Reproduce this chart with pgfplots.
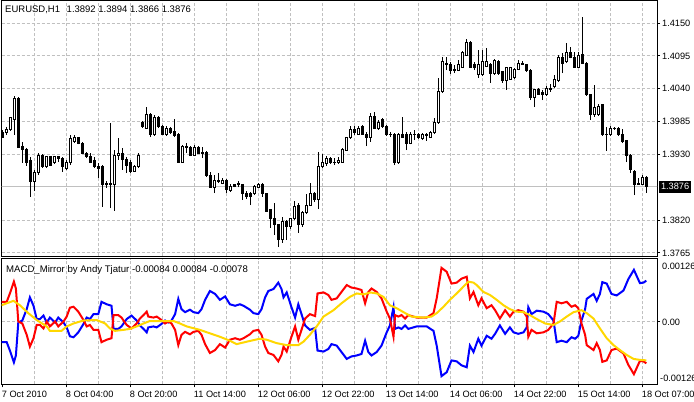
\documentclass[border=0pt]{standalone}
\usepackage{fontspec}
\setmainfont{Liberation Sans}
\usepackage{pgfplots}
\usepackage{pgfplotstable}
\pgfplotsset{compat=1.18}
\definecolor{gridgray}{RGB}{192,192,192}
\definecolor{mtred}{RGB}{255,0,0}
\definecolor{mtblue}{RGB}{0,0,255}
\definecolor{mtgold}{RGB}{255,215,0}

\pgfplotstableread{
k O H L C
0 1.3966 1.3971 1.3958 1.3959
1 1.3966 1.3976 1.3963 1.3971
2 1.3971 1.3993 1.3969 1.3991
3 1.3988 1.4028 1.3963 1.4023
4 1.4023 1.4026 1.3941 1.3942
5 1.3944 1.3951 1.3916 1.3939
6 1.3939 1.3941 1.3911 1.3917
7 1.3919 1.3926 1.3859 1.3884
8 1.3884 1.3904 1.3869 1.3899
9 1.3899 1.3932 1.3896 1.3929
10 1.3929 1.3931 1.3907 1.3909
11 1.3909 1.3927 1.3907 1.3926
12 1.3926 1.3927 1.3911 1.3912
13 1.3916 1.3927 1.3914 1.3926
14 1.3926 1.3927 1.3917 1.3924
15 1.3924 1.3926 1.3901 1.3909
16 1.3907 1.3921 1.3904 1.3916
17 1.3916 1.3963 1.3912 1.3956
18 1.3952 1.3963 1.3949 1.3958
19 1.3958 1.3959 1.3947 1.3949
20 1.3949 1.3951 1.3931 1.3932
21 1.3932 1.3934 1.3924 1.3926
22 1.3926 1.3932 1.3916 1.3917
23 1.3919 1.3926 1.3907 1.3909
24 1.3909 1.3916 1.3891 1.3907
25 1.3909 1.3912 1.3842 1.3880
26 1.3879 1.3886 1.3874 1.3882
27 1.3882 1.3983 1.3840 1.3879
28 1.3879 1.3937 1.3836 1.3929
29 1.3929 1.3958 1.3921 1.3932
30 1.3932 1.3941 1.3904 1.3922
31 1.3922 1.3926 1.3899 1.3911
32 1.3916 1.3921 1.3899 1.3901
33 1.3902 1.3912 1.3901 1.3909
34 1.3909 1.3932 1.3907 1.3929
35 1.3983 1.3986 1.3974 1.3976
36 1.3974 1.4009 1.3973 1.3996
37 1.3996 1.3999 1.3959 1.3963
38 1.3964 1.3996 1.3961 1.3991
39 1.3991 1.3994 1.3974 1.3976
40 1.3976 1.3979 1.3963 1.3964
41 1.3964 1.3978 1.3961 1.3974
42 1.3973 1.3976 1.3964 1.3966
43 1.3968 1.3989 1.3959 1.3961
44 1.3963 1.3966 1.3916 1.3917
45 1.3917 1.3946 1.3916 1.3944
46 1.3944 1.3949 1.3932 1.3942
47 1.3941 1.3944 1.3927 1.3929
48 1.3929 1.3946 1.3927 1.3942
49 1.3942 1.3944 1.3931 1.3932
50 1.3934 1.3942 1.3924 1.3932
51 1.3934 1.3936 1.3892 1.3894
52 1.3894 1.3901 1.3874 1.3875
53 1.3875 1.3896 1.3865 1.3886
54 1.3886 1.3899 1.3882 1.3884
55 1.3882 1.3891 1.3880 1.3887
56 1.3887 1.3889 1.3865 1.3872
57 1.3869 1.3880 1.3867 1.3877
58 1.3879 1.3880 1.3875 1.3877
59 1.3879 1.3886 1.3875 1.3882
60 1.3879 1.3880 1.3854 1.3865
61 1.3865 1.3869 1.3855 1.3860
62 1.3864 1.3867 1.3845 1.3860
63 1.3864 1.3879 1.3862 1.3877
64 1.3875 1.3882 1.3874 1.3880
65 1.3880 1.3882 1.3859 1.3864
66 1.3864 1.3865 1.3834 1.3835
67 1.3837 1.3839 1.3807 1.3822
68 1.3822 1.3849 1.3795 1.3812
69 1.3812 1.3814 1.3775 1.3788
70 1.3788 1.3825 1.3782 1.3817
71 1.3817 1.3820 1.3787 1.3809
72 1.3809 1.3824 1.3805 1.3822
73 1.3822 1.3852 1.3820 1.3842
74 1.3845 1.3849 1.3799 1.3812
75 1.3812 1.3835 1.3809 1.3832
76 1.3832 1.3864 1.3830 1.3845
77 1.3845 1.3882 1.3844 1.3865
78 1.3865 1.3867 1.3850 1.3854
79 1.3854 1.3934 1.3839 1.3909
80 1.3909 1.3931 1.3907 1.3916
81 1.3914 1.3927 1.3911 1.3924
82 1.3924 1.3926 1.3914 1.3916
83 1.3917 1.3924 1.3912 1.3916
84 1.3916 1.3926 1.3914 1.3919
85 1.3917 1.3941 1.3916 1.3939
86 1.3937 1.3959 1.3936 1.3958
87 1.3958 1.3978 1.3956 1.3971
88 1.3971 1.3978 1.3963 1.3966
89 1.3964 1.3978 1.3963 1.3973
90 1.3976 1.3979 1.3963 1.3964
91 1.3964 1.3968 1.3944 1.3958
92 1.3958 1.3999 1.3951 1.3994
93 1.3994 1.4001 1.3973 1.3974
94 1.3974 1.3988 1.3971 1.3984
95 1.3989 1.3991 1.3974 1.3976
96 1.3976 1.3979 1.3961 1.3963
97 1.3964 1.3968 1.3959 1.3963
98 1.3964 1.3966 1.3912 1.3916
99 1.3916 1.3966 1.3914 1.3963
100 1.3963 1.3993 1.3958 1.3959
101 1.3963 1.3968 1.3937 1.3949
102 1.3949 1.3968 1.3947 1.3964
103 1.3964 1.3971 1.3954 1.3963
104 1.3963 1.3966 1.3956 1.3958
105 1.3956 1.3966 1.3954 1.3963
106 1.3963 1.3966 1.3953 1.3961
107 1.3959 1.3969 1.3958 1.3966
108 1.3966 1.3991 1.3964 1.3983
109 1.3983 1.4058 1.3981 1.4036
110 1.4035 1.4093 1.4033 1.4085
111 1.4083 1.4093 1.4071 1.4081
112 1.4081 1.4085 1.4065 1.4070
113 1.4073 1.4080 1.4066 1.4070
114 1.4071 1.4088 1.4070 1.4080
115 1.4076 1.4103 1.4075 1.4100
116 1.4096 1.4123 1.4095 1.4117
117 1.4117 1.4120 1.4075 1.4076
118 1.4080 1.4085 1.4071 1.4076
119 1.4063 1.4105 1.4058 1.4080
120 1.4063 1.4105 1.4061 1.4085
121 1.4078 1.4108 1.4076 1.4086
122 1.4081 1.4083 1.4050 1.4065
123 1.4065 1.4090 1.4063 1.4088
124 1.4085 1.4088 1.4063 1.4065
125 1.4068 1.4070 1.4050 1.4053
126 1.4053 1.4076 1.4038 1.4075
127 1.4056 1.4076 1.4055 1.4075
128 1.4058 1.4075 1.4056 1.4073
129 1.4073 1.4088 1.4071 1.4083
130 1.4083 1.4086 1.4080 1.4081
131 1.4080 1.4081 1.4068 1.4070
132 1.4071 1.4073 1.4021 1.4026
133 1.4026 1.4040 1.4009 1.4038
134 1.4038 1.4041 1.4030 1.4031
135 1.4033 1.4038 1.4021 1.4030
136 1.4030 1.4045 1.4028 1.4041
137 1.4038 1.4048 1.4035 1.4041
138 1.4043 1.4063 1.4041 1.4055
139 1.4053 1.4096 1.4051 1.4093
140 1.4093 1.4100 1.4066 1.4083
141 1.4085 1.4117 1.4083 1.4100
142 1.4100 1.4110 1.4091 1.4093
143 1.4093 1.4102 1.4075 1.4076
144 1.4076 1.4102 1.4075 1.4096
145 1.4098 1.4160 1.4081 1.4083
146 1.4083 1.4085 1.4028 1.4030
147 1.4030 1.4031 1.3988 1.3996
148 1.3996 1.4046 1.3993 1.4009
149 1.3996 1.4014 1.3994 1.4011
150 1.4013 1.4014 1.3961 1.3963
151 1.3964 1.3976 1.3936 1.3963
152 1.3963 1.3978 1.3961 1.3974
153 1.3974 1.3976 1.3971 1.3973
154 1.3974 1.3976 1.3961 1.3963
155 1.3963 1.3973 1.3949 1.3951
156 1.3953 1.3954 1.3917 1.3929
157 1.3929 1.3931 1.3899 1.3904
158 1.3902 1.3904 1.3862 1.3880
159 1.3882 1.3891 1.3879 1.3880
160 1.3880 1.3896 1.3879 1.3891
161 1.3892 1.3894 1.3866 1.3876
}\candles

\pgfplotstableread{
k red blue
-0.2 0.00041 -0.00041
1.1 0.00041 -0.00041
1.9 0.00058 -0.00058
2.9 0.00082 -0.00082
3.4 0.00068 -0.00068
4.0 0.00001 -0.00001
5.0 -0.00003 0.00003
6.1 -0.00026 0.00026
6.9 -0.00050 0.00050
7.8 -0.00033 0.00033
8.6 -0.00006 0.00006
9.4 -0.00006 0.00006
10.3 -0.00013 0.00013
11.1 0.00001 -0.00001
11.9 -0.00009 0.00009
13.2 0.00001 -0.00001
14.0 -0.00009 0.00009
15.3 0.00001 -0.00001
16.1 0.00011 -0.00011
16.9 0.00029 -0.00029
17.8 0.00031 -0.00031
19.0 0.00021 -0.00021
20.3 0.00004 -0.00004
21.1 -0.00009 0.00009
21.9 -0.00006 0.00006
22.8 -0.00016 0.00016
24.0 -0.00016 0.00016
24.8 -0.00041 0.00041
26.1 -0.00036 0.00036
27.3 -0.00033 0.00033
27.8 0.00014 -0.00014
29.0 0.00014 -0.00014
29.8 0.00009 -0.00009
31.1 -0.00006 0.00006
32.3 -0.00013 0.00013
33.6 -0.00003 0.00003
34.4 0.00007 -0.00007
35.3 0.00014 -0.00014
36.1 0.00021 -0.00021
36.5 0.00011 -0.00011
37.8 0.00009 -0.00009
38.6 0.00011 -0.00011
39.8 0.00004 -0.00004
40.7 -0.00003 0.00003
41.5 0.00001 -0.00001
42.3 -0.00003 0.00003
43.2 -0.00016 0.00016
44.0 -0.00047 0.00047
44.8 -0.00026 0.00026
45.7 -0.00020 0.00020
46.9 -0.00025 0.00025
47.8 -0.00020 0.00020
49.0 -0.00018 0.00018
49.8 -0.00026 0.00026
50.7 -0.00045 0.00045
51.9 -0.00063 0.00063
53.2 -0.00057 0.00057
54.4 -0.00045 0.00045
55.7 -0.00052 0.00052
56.9 -0.00036 0.00036
58.2 -0.00033 0.00033
59.4 -0.00036 0.00036
60.3 -0.00033 0.00033
61.9 -0.00025 0.00025
62.8 -0.00018 0.00018
64.0 -0.00016 0.00016
64.8 -0.00026 0.00026
65.7 -0.00050 0.00050
66.5 -0.00063 0.00063
67.8 -0.00067 0.00067
69.0 -0.00080 0.00080
69.8 -0.00067 0.00067
70.3 -0.00050 0.00050
71.1 -0.00060 0.00060
72.3 -0.00030 0.00030
73.2 -0.00009 0.00009
74.0 -0.00036 0.00036
74.8 -0.00016 0.00016
75.7 0.00007 -0.00007
76.9 0.00016 -0.00016
78.2 0.00012 -0.00012
78.8 0.00058 -0.00058
80.3 0.00060 -0.00060
81.5 0.00055 -0.00055
82.3 0.00045 -0.00045
83.6 0.00048 -0.00048
84.8 0.00061 -0.00061
86.1 0.00075 -0.00075
87.3 0.00070 -0.00070
88.6 0.00068 -0.00068
89.8 0.00065 -0.00065
90.7 0.00038 -0.00038
91.5 0.00061 -0.00061
92.3 0.00068 -0.00068
93.6 0.00061 -0.00061
94.8 0.00048 -0.00048
96.1 0.00021 -0.00021
96.9 0.00007 -0.00007
97.8 -0.00030 0.00030
98.2 0.00014 -0.00014
99.0 0.00011 -0.00011
99.8 0.00014 -0.00014
100.7 0.00007 -0.00007
101.5 0.00014 -0.00014
103.6 0.00009 -0.00009
106.1 0.00009 -0.00009
107.8 0.00018 -0.00018
108.6 0.00048 -0.00048
109.8 0.00110 -0.00110
111.1 0.00102 -0.00102
112.3 0.00078 -0.00078
113.6 0.00080 -0.00080
114.8 0.00088 -0.00088
116.1 0.00092 -0.00092
116.9 0.00048 -0.00048
117.8 0.00061 -0.00061
119.0 0.00034 -0.00034
119.8 0.00048 -0.00048
121.1 0.00028 -0.00028
122.3 0.00034 -0.00034
123.2 0.00024 -0.00024
124.4 0.00007 -0.00007
125.7 0.00024 -0.00024
126.9 0.00011 -0.00011
127.8 0.00021 -0.00021
129.0 0.00024 -0.00024
130.3 0.00021 -0.00021
131.1 0.00011 -0.00011
131.5 -0.00030 0.00030
132.3 -0.00016 0.00016
133.6 -0.00023 0.00023
135.3 -0.00021 0.00021
136.5 -0.00016 0.00016
137.8 -0.00003 0.00003
138.6 0.00041 -0.00041
139.8 0.00038 -0.00038
141.1 0.00041 -0.00041
142.3 0.00031 -0.00031
143.2 0.00034 -0.00034
144.0 0.00028 -0.00028
144.8 -0.00003 0.00003
145.7 -0.00026 0.00026
146.1 -0.00047 0.00047
147.8 -0.00057 0.00057
148.6 -0.00043 0.00043
149.4 -0.00057 0.00057
150.0 -0.00081 0.00081
151.1 -0.00078 0.00078
152.3 -0.00057 0.00057
153.6 -0.00054 0.00054
155.3 -0.00064 0.00064
156.5 -0.00087 0.00087
157.9 -0.00106 0.00106
159.4 -0.00079 0.00079
160.3 -0.00080 0.00080
161.0 -0.00084 0.00084
}\macd

\pgfplotstableread{
k sig
-0.2 0.00034
1.1 0.00038
2.8 0.00043
4.4 0.00034
6.5 0.00018
8.6 0.00004
11.1 -0.00009
11.9 -0.00018
14.8 -0.00018
16.1 -0.00009
17.8 -0.00003
20.3 0.00003
23.6 0.00004
25.7 -0.00003
26.9 -0.00013
28.2 -0.00018
30.3 -0.00016
31.9 -0.00014
33.6 -0.00009
35.3 -0.00003
36.9 0.00002
42.8 0.00002
44.4 -0.00003
46.1 -0.00009
49.4 -0.00016
51.9 -0.00023
54.4 -0.00030
56.9 -0.00038
58.6 -0.00045
61.1 -0.00040
64.4 -0.00034
66.1 -0.00036
68.6 -0.00043
71.1 -0.00047
74.0 -0.00047
75.3 -0.00040
76.9 -0.00026
78.6 -0.00009
80.3 0.00011
82.8 0.00024
84.8 0.00038
86.9 0.00051
88.6 0.00058
90.3 0.00056
92.0 0.00060
93.6 0.00058
95.3 0.00051
96.9 0.00034
98.6 0.00028
100.3 0.00020
102.3 0.00011
105.3 0.00009
107.3 0.00011
108.6 0.00018
110.3 0.00031
111.9 0.00045
113.6 0.00058
115.3 0.00072
116.5 0.00082
117.8 0.00080
118.6 0.00075
120.3 0.00061
121.9 0.00055
123.6 0.00045
125.3 0.00034
126.9 0.00026
128.6 0.00021
130.3 0.00020
131.9 0.00014
133.6 0.00006
135.7 -0.00003
137.8 -0.00006
139.4 0.00001
141.1 0.00011
142.8 0.00020
144.8 0.00024
146.1 0.00018
147.8 0.00007
149.4 -0.00013
151.1 -0.00033
152.8 -0.00047
154.4 -0.00057
156.1 -0.00067
157.8 -0.00075
159.4 -0.00077
161.0 -0.00078
}\signal

\begin{document}
\begin{tikzpicture}[every node/.append style={font=\fontsize{9.2bp}{11bp}\selectfont}]
\path[use as bounding box] (0bp,0bp) rectangle (694bp,402bp);
\pgfplotsset{
  panel/.style={scale only axis, anchor=south west, width=655.3bp,
    xmin=-0.15, xmax=163.675, scaled ticks=false,
    axis line style={black, line width=1bp},
    tick style={black, line width=1bp}, tick align=outside,
    major tick length=3bp, minor tick length=0pt,
    grid style={gridgray, line width=1bp, dash pattern=on 3bp off 2bp},
    minor grid style={gridgray, line width=1bp, dash pattern=on 3bp off 2bp},
    tick label style={font=\fontsize{9.2bp}{11bp}\selectfont}},
  mainpanel/.style={panel, at={(1.7bp,145.5bp)}, height=256bp,
    ymin=1.37591, ymax=1.41877},
}
% price panel: grid, price line, wicks
\begin{axis}[mainpanel,
  xtick={16,32,...,160}, xticklabels={}, xtick style={draw=none},
  minor xtick={8,24,...,152}, xmajorgrids, xminorgrids,
  ytick={1.3765,1.3820,1.3930,1.3985,1.4040,1.4095,1.4150},
  yticklabels={1.3765,1.3820,1.3930,1.3985,1.4040,1.4095,1.4150},
  ymajorgrids, ytick pos=right, yticklabel pos=right,
  yticklabel style={anchor=west, inner sep=0pt, xshift=2bp}]
\addplot[gridgray, line width=1bp] coordinates {(-1,1.3876) (170,1.3876)};
\addplot[draw=none, mark=none,
  error bars/.cd, y dir=plus, y explicit, error mark=none,
  error bar style={draw=black, line width=1bp, solid}]
  table[x=k, y=L, y error expr=\thisrow{H}-\thisrow{L}] {\candles};
\end{axis}
% candle bodies
\begin{axis}[mainpanel, hide axis, ybar stacked, bar width=2bp]
\addplot[draw=none, fill=none] table[x=k, y expr={min(\thisrow{O},\thisrow{C})}] {\candles};
\addplot[draw=black, fill=white, line width=1bp] table[x=k, y expr={max(\thisrow{C}-\thisrow{O},0)}] {\candles};
\addplot[draw=black, fill=black, line width=1bp] table[x=k, y expr={max(\thisrow{O}-\thisrow{C},0)}] {\candles};
\end{axis}
% MACD panel
\begin{axis}[panel, at={(1.7bp,17.5bp)}, height=125.5bp,
  ymin=-0.00127, ymax=0.00128,
  xtick={16,32,...,160},
  xticklabels={8 Oct 04:00,8 Oct 20:00,11 Oct 14:00,12 Oct 06:00,12 Oct 22:00,13 Oct 14:00,14 Oct 06:00,14 Oct 22:00,15 Oct 14:00,18 Oct 07:00},
  extra x ticks={0}, extra x tick labels={7 Oct 2010}, extra x tick style={grid=none},
  minor xtick={8,24,...,152}, xmajorgrids, xminorgrids, xtick pos=bottom,
  xticklabel style={anchor=north west, inner sep=0pt, xshift=-0.6bp, yshift=-3bp},
  ytick={0}, yticklabels={0.00}, ymajorgrids, ytick pos=right, yticklabel pos=right,
  yticklabel style={anchor=west, inner sep=0pt, xshift=2bp}]
\addplot[mtblue, line width=2bp] table[x=k, y=blue] {\macd};
\addplot[mtred, line width=2bp] table[x=k, y=red] {\macd};
\addplot[mtgold, line width=2bp] table[x=k, y=sig] {\signal};
\end{axis}
\node[anchor=west, inner sep=0pt, font=\fontsize{9.5bp}{11bp}\selectfont] at (5bp,392bp) {EURUSD,H1\hspace{4bp} 1.3892 1.3894 1.3866 1.3876};
\node[anchor=west, inner sep=0pt, font=\fontsize{9.6bp}{11bp}\selectfont] at (6bp,132bp) {MACD\_Mirror by Andy Tjatur -0.00084 0.00084 -0.00078};
\node[fill=black, text=white, anchor=west, inner xsep=2.3bp, inner ysep=2.6bp] at (658.5bp,215.3bp) {1.3876};
\node[anchor=west, inner sep=0pt] at (662bp,136bp) {0.00126};
\node[anchor=west, inner sep=0pt] at (660bp,24bp) {-0.00126};
\end{tikzpicture}
\end{document}
